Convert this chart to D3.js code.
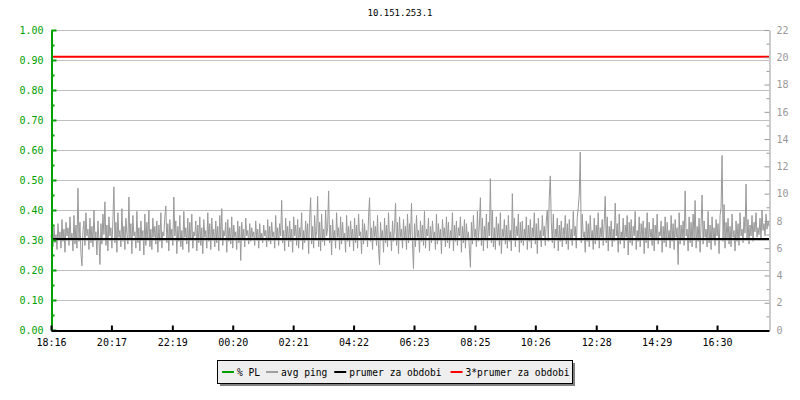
<!DOCTYPE html>
<html>
<head>
<meta charset="utf-8">
<script src="https://cdn.jsdelivr.net/npm/d3@7"></script>
<style>
body { margin: 0; background: #fff; }
svg { display: block; font-family: "DejaVu Sans Mono", monospace; }
</style>
</head>
<body>
<svg width="800" height="400"></svg>
<script>
// avg ping (ms), one sample every 2 minutes from 18:16
var pingValues = [
 6.8,7.3,6.1,7.6,6.4,7.0,5.9,7.8,6.6,7.2,6.0,8.1,6.5,7.4,5.7,7.9,6.9,7.5,6.2,8.3,
 6.7,7.1,5.8,8.4,6.3,7.7,6.0,10.4,6.5,7.9,5.6,4.7,7.3,8.0,6.2,8.6,6.9,7.4,5.9,8.2,
 6.4,7.6,6.1,8.8,6.7,7.2,5.5,8.0,6.6,4.8,7.8,6.3,8.5,7.0,9.4,6.2,7.7,5.8,8.3,6.9,
 7.5,6.0,8.1,10.5,6.4,7.9,5.7,8.6,6.8,7.3,6.1,8.9,6.5,7.6,5.9,8.2,7.1,6.3,9.75,6.6,
 7.8,5.6,8.4,6.9,7.2,6.0,8.7,6.4,7.5,5.8,8.0,6.7,7.3,5.5,8.5,6.2,7.9,6.6,8.8,6.1,
 7.4,5.9,8.2,6.8,7.6,6.3,8.0,5.7,7.7,6.5,8.6,6.0,7.2,6.9,8.3,9.1,6.4,7.8,5.8,8.1,
 6.7,7.4,6.2,9.75,6.9,8.0,5.6,7.6,6.5,8.4,6.1,7.3,5.9,8.7,6.8,7.5,6.3,8.2,5.7,7.9,
 6.6,8.5,6.0,7.2,6.9,8.0,5.8,7.7,6.4,8.3,6.2,7.5,5.6,8.1,6.8,7.3,6.0,8.6,6.5,7.8,
 5.9,8.2,6.7,7.4,6.1,8.0,6.4,7.6,5.8,8.4,6.6,8.9,6.2,7.3,6.9,7.9,5.7,8.1,6.5,7.5,
 6.3,8.3,6.0,7.7,6.8,7.2,5.9,8.0,6.4,7.6,5.1,7.9,6.6,7.4,6.1,8.2,6.9,7.3,6.3,7.8,
 6.5,7.5,6.8,7.2,6.2,8.0,6.7,7.4,6.0,7.8,6.6,7.1,6.4,7.7,6.9,7.3,6.1,8.1,6.5,7.6,
 6.3,7.9,6.8,7.2,6.0,8.4,6.6,7.5,6.2,7.8,6.9,9.5,6.4,7.3,5.8,8.2,6.7,7.6,6.1,8.0,
 6.5,7.4,5.7,8.3,6.9,7.7,6.2,8.1,6.0,7.5,6.8,8.6,5.9,7.3,6.4,8.0,6.6,7.8,5.6,8.2,
 9.7,6.3,7.6,6.0,8.4,6.7,7.2,9.8,6.1,7.9,5.8,8.5,6.5,7.4,6.2,8.8,6.9,7.5,10.2,6.4,
 7.7,5.5,8.1,6.6,7.3,6.0,8.6,6.8,7.5,5.9,8.3,6.3,7.9,6.6,7.1,5.7,8.4,6.5,7.6,6.1,
 8.0,6.7,7.4,5.8,8.2,6.4,7.7,6.0,8.5,6.9,7.2,5.6,8.1,6.3,7.8,6.6,7.3,6.1,8.3,9.7,
 6.5,7.5,5.9,8.0,6.8,7.6,6.2,8.4,6.0,4.8,7.9,6.7,7.3,5.7,8.2,6.4,7.7,6.1,8.6,6.6,
 7.2,5.8,8.0,6.5,7.5,9.3,6.2,7.9,5.6,8.3,6.8,7.4,6.0,8.1,6.6,7.6,5.9,8.5,6.4,7.8,
 6.7,9.3,6.3,4.5,7.8,6.1,8.4,6.8,7.3,5.7,8.0,6.5,7.7,6.2,8.7,6.0,7.4,6.9,8.2,5.8,
 7.6,6.4,8.0,6.7,7.2,5.9,8.5,6.3,7.8,6.6,7.4,5.6,8.1,6.8,7.5,6.1,8.3,6.4,7.9,6.0,
 7.3,6.7,8.6,5.8,7.7,6.5,8.0,6.2,7.5,6.9,8.3,5.7,7.6,6.4,8.1,6.0,7.8,6.6,7.2,5.9,
 4.6,7.9,6.3,8.4,6.8,7.4,6.1,8.7,6.5,7.7,9.7,6.2,8.2,5.8,7.6,6.6,8.5,6.0,7.9,6.9,
 11.1,6.4,8.8,6.1,7.5,5.9,8.3,6.7,7.8,6.2,8.6,5.6,7.4,6.8,8.1,6.3,7.7,6.0,8.4,6.5,
 7.3,5.8,10.0,6.6,8.2,6.1,7.6,6.9,8.5,5.7,7.9,6.4,8.0,6.2,7.4,6.7,8.3,5.9,7.7,6.5,
 8.1,6.0,7.5,6.8,8.6,6.3,7.8,5.6,8.2,6.6,7.3,6.1,8.4,6.9,7.6,6.2,8.0,8.8,6.5,9.8,
 11.3,7.9,6.4,8.5,6.0,7.4,6.8,8.2,5.8,7.7,6.5,8.0,6.1,7.5,6.7,8.4,6.3,7.8,5.9,8.1,
 6.6,7.4,6.2,8.7,6.9,7.6,6.0,8.3,9.0,9.9,13.05,6.4,8.5,6.8,7.2,5.7,8.0,6.5,7.8,6.1,
 8.4,6.7,7.3,5.9,8.2,6.3,7.7,6.6,8.6,6.0,7.5,6.8,8.1,6.2,7.9,9.8,6.4,8.3,5.8,7.6,
 6.7,8.0,6.1,7.4,6.5,9.3,6.9,7.8,5.7,8.5,6.3,7.2,6.6,8.2,6.0,7.7,6.8,8.4,5.5,7.9,
 6.4,8.1,6.2,7.6,6.9,8.7,5.9,7.3,6.5,8.3,6.1,7.8,6.7,8.0,5.6,7.5,6.4,8.6,6.0,7.9,
 6.8,7.4,6.2,8.2,5.8,7.7,6.6,8.5,6.3,7.2,6.9,8.0,5.7,7.6,6.4,8.3,6.1,7.9,6.7,7.3,
 6.0,8.4,6.5,7.8,5.9,8.1,6.8,7.5,4.8,8.6,6.3,7.7,6.6,8.0,6.2,10.2,6.9,7.4,5.8,8.3,
 6.4,7.9,6.1,8.5,6.7,9.5,6.0,7.6,6.5,8.2,5.7,7.8,9.9,6.3,8.0,6.8,7.4,6.1,8.7,6.4,
 7.7,5.9,8.3,6.6,7.5,6.2,8.1,6.9,7.8,5.6,8.4,9.0,12.8,6.5,9.2,6.0,7.9,6.7,8.2,6.3,
 7.6,6.1,8.5,6.8,7.3,5.8,8.0,6.5,7.8,6.2,8.6,6.9,7.4,6.4,8.3,7.1,10.7,6.6,8.1,6.3,
 7.7,6.9,8.4,6.5,7.9,7.2,8.6,6.8,7.5,7.0,8.2,6.6,8.8,7.3,7.8,6.9,8.5,7.4,8.0,7.6
];
var avgPeriod = 6.68;      // prumer za obdobi (ms)
var tripleAvg = 20.04;     // 3*prumer za obdobi (ms)
var xTickLabels = ["18:16","20:17","22:19","00:20","02:21","04:22","06:23","08:25","10:26","12:28","14:29","16:30"];
var leftTicks = [0, 0.1, 0.2, 0.3, 0.4, 0.5, 0.6, 0.7, 0.8, 0.9, 1.0];
var rightTicks = [0, 2, 4, 6, 8, 10, 12, 14, 16, 18, 20, 22];
var legendItems = [
    {name: "% PL", color: "#00a000"},
    {name: "avg ping", color: "#a0a0a0"},
    {name: "prumer za obdobi", color: "#000000"},
    {name: "3*prumer za obdobi", color: "#ff0000"}
];
var title = "10.151.253.1";

var svg = d3.select("svg");
var plotLeft = 51, plotRight = 769, plotTop = 30, plotBottom = 330;
var green = "#00a000";
var grey = "#999999";

var start = new Date(2020, 0, 1, 18, 16);
function addMin(d, m) { return new Date(d.getTime() + m * 60000); }
var stepMin = 2;
var end = addMin(start, 1438);

var xScale = d3.scaleTime().domain([start, end]).range([plotLeft, plotRight]);
var yLeft = d3.scaleLinear().domain([0, 1]).range([plotBottom, plotTop]);
var yRight = d3.scaleLinear().domain([0, 22]).range([plotBottom, plotTop]);

// tick label -> date after the start
var xTickDates = xTickLabels.map(function(s) {
    var p = s.split(":");
    var d = new Date(2020, 0, 1, +p[0], +p[1]);
    if (d < start) d = new Date(2020, 0, 2, +p[0], +p[1]);
    return d;
});

svg.append("text")
    .attr("x", 400)
    .attr("y", 16)
    .attr("text-anchor", "middle")
    .style("font-size", "9px")
    .text(title);

// grid
svg.append("g")
    .selectAll("line")
    .data(leftTicks)
    .enter()
    .append("line")
    .attr("x1", plotLeft)
    .attr("x2", plotRight)
    .attr("y1", function(d) { return Math.round(yLeft(d)) + 0.5; })
    .attr("y2", function(d) { return Math.round(yLeft(d)) + 0.5; })
    .attr("stroke", "#c0c0c0");

// avg ping series
var data = pingValues.map(function(v, i) { return {t: addMin(start, i * stepMin), v: v}; });
var line = d3.line()
    .x(function(d) { return xScale(d.t); })
    .y(function(d) { return yRight(d.v); });
svg.append("path")
    .datum(data)
    .attr("d", line)
    .attr("fill", "none")
    .attr("stroke", grey)
    .attr("stroke-width", 1);

// average and 3*average
svg.append("line")
    .attr("x1", plotLeft).attr("x2", plotRight)
    .attr("y1", yRight(avgPeriod)).attr("y2", yRight(avgPeriod))
    .attr("stroke", "#000").attr("stroke-width", 2);
svg.append("line")
    .attr("x1", plotLeft).attr("x2", plotRight)
    .attr("y1", yRight(tripleAvg)).attr("y2", yRight(tripleAvg))
    .attr("stroke", "#ff0000").attr("stroke-width", 2);

// left axis
var gl = svg.append("g")
    .attr("transform", "translate(" + (plotLeft + 0.5) + ",0)")
    .call(d3.axisLeft(yLeft).tickValues(leftTicks).tickFormat(d3.format(".2f"))
        .tickSizeInner(-5).tickSizeOuter(0).tickPadding(8));
var glMinor = svg.append("g")
    .attr("transform", "translate(" + (plotLeft + 0.5) + ",0)")
    .call(d3.axisLeft(yLeft).tickValues(d3.range(0.05, 1, 0.1)).tickFormat("")
        .tickSizeInner(-3).tickSizeOuter(0));
glMinor.select(".domain").remove();

// right axis
var gr = svg.append("g")
    .attr("transform", "translate(" + (plotRight + 0.5) + ",0)")
    .call(d3.axisRight(yRight).tickValues(rightTicks).tickFormat(d3.format("d"))
        .tickSizeInner(-5).tickSizeOuter(0).tickPadding(7));
var grMinor = svg.append("g")
    .attr("transform", "translate(" + (plotRight + 0.5) + ",0)")
    .call(d3.axisRight(yRight).tickValues(d3.range(1, 22, 2)).tickFormat("")
        .tickSizeInner(-3).tickSizeOuter(0));
grMinor.select(".domain").remove();

// bottom axis
var gb = svg.append("g")
    .attr("transform", "translate(0," + (plotBottom + 0.5) + ")")
    .call(d3.axisBottom(xScale).tickValues(xTickDates)
        .tickFormat(function(d, i) { return xTickLabels[i]; })
        .tickSizeInner(-5).tickSizeOuter(0).tickPadding(8));

svg.selectAll(".tick text").style("font-size", "10px").style("font-family", "DejaVu Sans Mono, monospace");
gl.selectAll("line, path").attr("stroke", green).attr("stroke-width", 2);
glMinor.selectAll("line").attr("stroke", green).attr("stroke-width", 2);
gl.selectAll("text").attr("fill", green);
gr.selectAll("line, path").attr("stroke", grey);
grMinor.selectAll("line").attr("stroke", grey);
gr.selectAll("text").attr("fill", grey);
gb.selectAll("line, path").attr("stroke", "#000").attr("stroke-width", 2);
gb.selectAll("text").attr("fill", "#000");

// legend
var lg = svg.append("g").attr("transform", "translate(217,360)");
lg.append("rect").attr("x", 3).attr("y", 3).attr("width", 355).attr("height", 23).attr("fill", "#808080");
lg.append("rect").attr("x", 0.5).attr("y", 0.5).attr("width", 355).attr("height", 23)
    .attr("fill", "#eeeeee").attr("stroke", "#000");
var lx = 5;
legendItems.forEach(function(d) {
    lg.append("line")
        .attr("x1", lx).attr("x2", lx + 12)
        .attr("y1", 12).attr("y2", 12)
        .attr("stroke", d.color).attr("stroke-width", 2);
    lg.append("text")
        .attr("x", lx + 15)
        .attr("y", 15.5)
        .style("font-size", "9.6px")
        .text(d.name);
    lx += 15 + d.name.length * 6.02 + 5;
});
</script>
</body>
</html>
